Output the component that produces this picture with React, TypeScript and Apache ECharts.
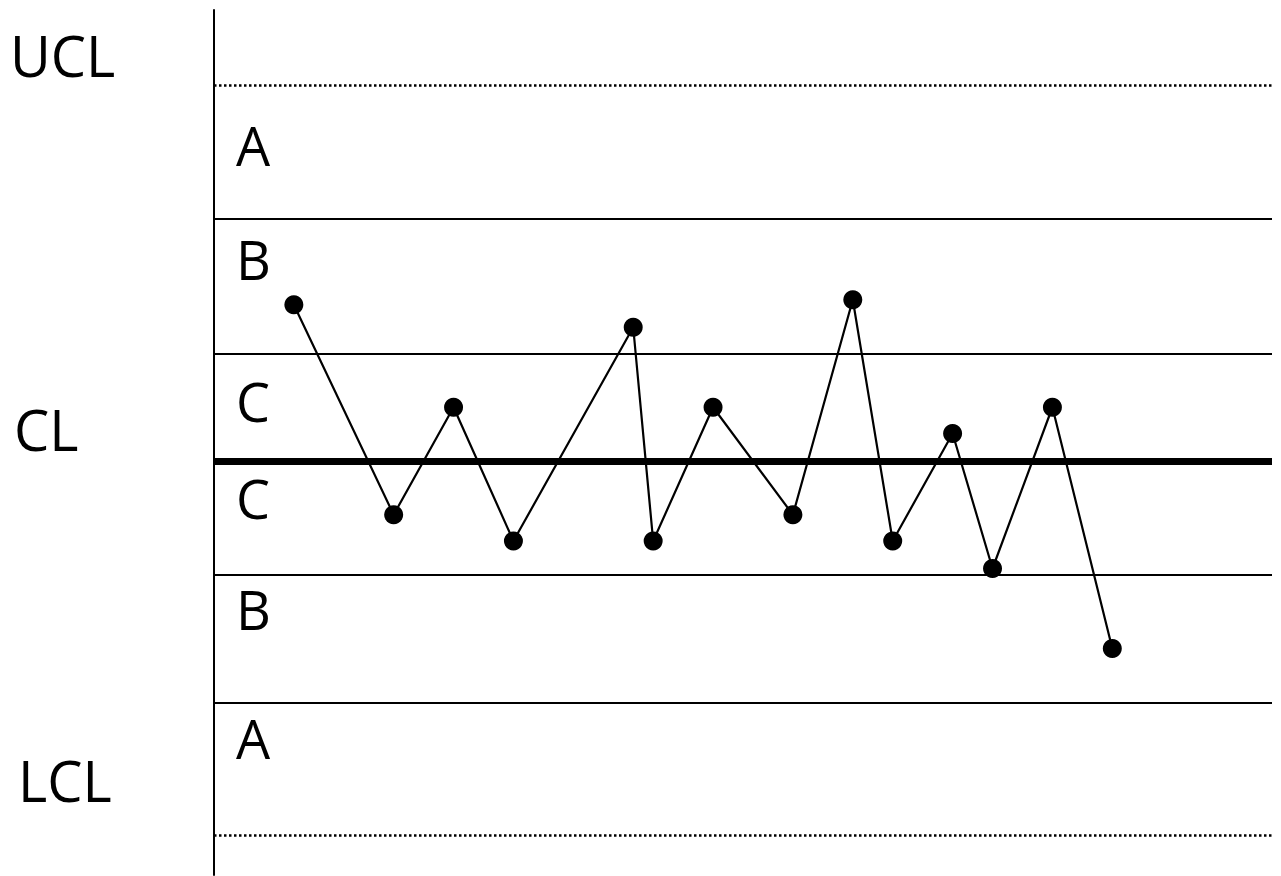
import React, { useEffect, useRef } from "react";
import * as echarts from "echarts";

// sample positions (x) and measured values (in sigma units around CL = 0)
const sampleX = [4, 9, 12, 15, 21, 22, 25, 29, 32, 34, 37, 39, 42, 45];
const sampleY = [1.25, -0.43, 0.43, -0.64, 1.07, -0.64, 0.43, -0.43, 1.29, -0.64, 0.22, -0.86, 0.43, -1.5];

// zone boundaries
const limitLines = [
  { name: "UCL", value: 3.01, kind: "dotted", width: 2.5 },
  { name: "A/B", value: 1.94, kind: "solid", width: 2 },
  { name: "B/C", value: 0.86, kind: "solid", width: 2 },
  { name: "CL", value: 0, kind: "solid", width: 7 },
  { name: "C/B", value: -0.91, kind: "solid", width: 2 },
  { name: "B/A", value: -1.93, kind: "solid", width: 2 },
  { name: "LCL", value: -2.99, kind: "dotted", width: 2.5 },
];

const sideLabels = ["UCL", "CL", "LCL"];
const zoneLabels = ["A", "B", "C", "C", "B", "A"];

const FONT = "'Open Sans', 'Noto Sans', sans-serif";

export default function App() {
  const ref = useRef<HTMLDivElement>(null);
  useEffect(() => {
    if (!ref.current) return;
    const chart = echarts.init(ref.current, undefined, { renderer: "svg" });
    const sidePos = [
      { x: 10, y: 27 },
      { x: 14, y: 401 },
      { x: 18, y: 752 },
    ];
    const zoneTop = [118, 232, 374, 471, 582, 711];
    chart.setOption({
      animation: false,
      backgroundColor: "#ffffff",
      grid: { left: 214, right: 9, top: 10, bottom: 1, containLabel: false },
      xAxis: {
        type: "value",
        min: 0,
        max: 53,
        show: false,
      },
      yAxis: {
        type: "value",
        min: -3.312,
        max: 3.608,
        axisLine: { show: true, onZero: false, lineStyle: { color: "#000", width: 2 } },
        axisTick: { show: false },
        axisLabel: { show: false },
        splitLine: { show: false },
      },
      series: [
        {
          type: "line",
          data: sampleX.map((x, i) => [x, sampleY[i]]),
          symbol: "circle",
          symbolSize: 19,
          itemStyle: { color: "#000" },
          lineStyle: { color: "#000", width: 2.2 },
          z: 5,
          markLine: {
            silent: true,
            symbol: "none",
            label: { show: false },
            data: limitLines.map((l) => ({
              yAxis: l.value,
              lineStyle: {
                color: "#000",
                type: l.kind === "dotted" ? [2.5, 2.5] : "solid",
                width: l.width,
              },
            })),
          },
        },
      ],
      graphic: [
        ...sideLabels.map((t, i) => ({
          type: "text",
          left: sidePos[i].x,
          top: sidePos[i].y,
          style: { text: t, fontSize: 56, fontFamily: FONT, fill: "#000" },
        })),
        ...zoneLabels.map((t, i) => ({
          type: "text",
          left: 236,
          top: zoneTop[i],
          style: { text: t, fontSize: 54, fontFamily: FONT, fill: "#000" },
        })),
      ],
    });
    return () => chart.dispose();
  }, []);
  return (
    <div
      ref={ref}
      style={{ position: "fixed", left: 0, top: 0, width: 1281, height: 876, background: "#fff" }}
    />
  );
}
